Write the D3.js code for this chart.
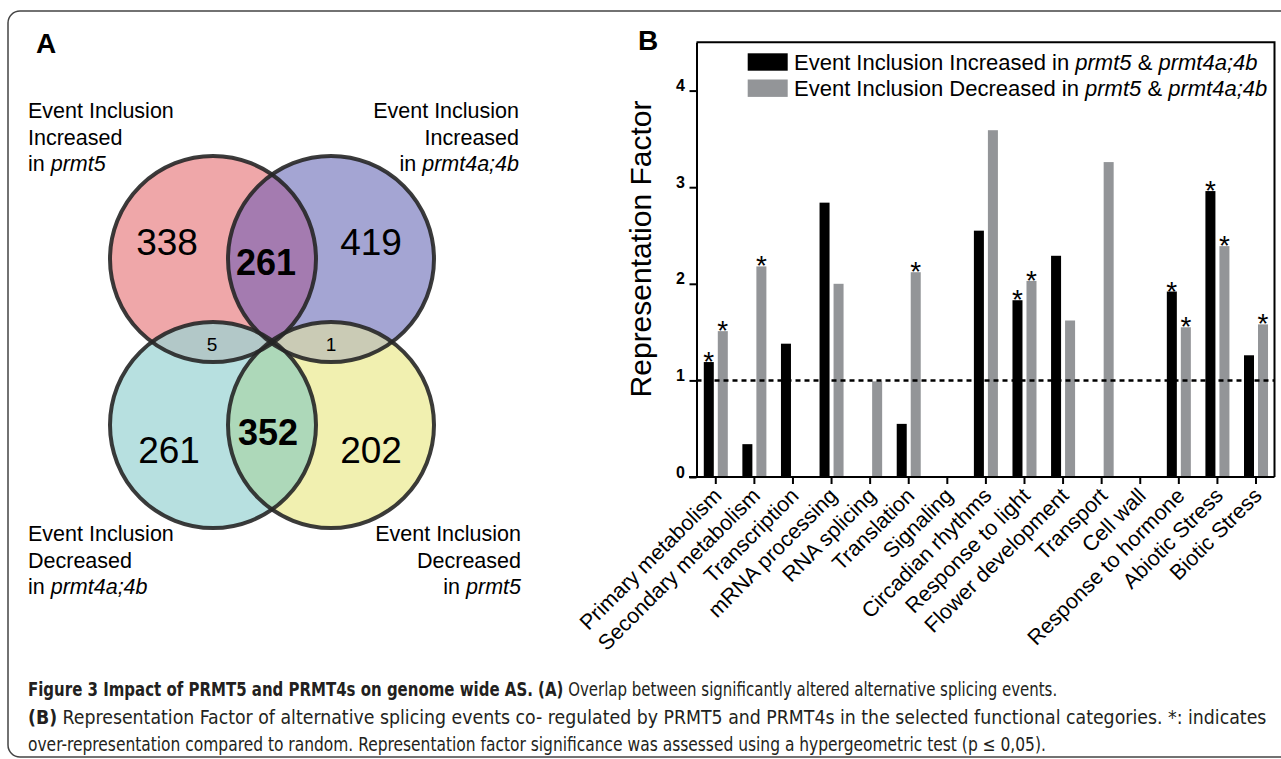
<!DOCTYPE html>
<html>
<head>
<meta charset="utf-8">
<script src="https://cdn.jsdelivr.net/npm/d3@7"></script>
<style>
  body { margin: 0; background: #fff; }
  svg { display: block; }
  text { font-family: "Liberation Sans", Arial, Helvetica, sans-serif; fill: #000; }
</style>
</head>
<body>
<svg id="fig" width="1281" height="759"></svg>
<script>
// ---- data ----
const categories = [
  "Primary metabolism", "Secondary metabolism", "Transcription", "mRNA processing",
  "RNA splicing", "Translation", "Signaling", "Circadian rhythms", "Response to light",
  "Flower development", "Transport", "Cell wall", "Response to hormone",
  "Abiotic Stress", "Biotic Stress"
];
const increased = [1.19, 0.34, 1.38, 2.84, 0, 0.55, 0, 2.55, 1.83, 2.29, 0, 0, 1.92, 2.96, 1.26];
const decreased = [1.51, 2.18, 0, 2.0, 0.99, 2.12, 0, 3.59, 2.03, 1.62, 3.26, 0, 1.55, 2.39, 1.58];
const sigIncreased = [true, false, false, false, false, false, false, false, true, false, false, false, true, true, false];
const sigDecreased = [true, true, false, false, false, true, false, false, true, false, false, false, true, true, true];
const yTicks = [0, 1, 2, 3, 4];
const baseline = 1;

// venn: exclusive counts for each set, then pair overlaps
const vennSets = ["incPrmt5", "incPrmt4", "decPrmt4", "decPrmt5"];
const vennOnly = [338, 419, 261, 202];
const vennPairs = [
  { a: 0, b: 1, n: 261 },
  { a: 2, b: 3, n: 352 },
  { a: 0, b: 2, n: 5 },
  { a: 1, b: 3, n: 1 }
];

const svg = d3.select("#fig");

// outer frame
svg.append("rect")
  .attr("x", 8).attr("y", 11)
  .attr("width", 1300).attr("height", 746)
  .attr("rx", 12)
  .attr("fill", "none")
  .attr("stroke", "#444")
  .attr("stroke-width", 1.5);

// ================= Panel A : Venn =================
svg.append("text").attr("x", 36).attr("y", 53)
  .style("font-size", "28px").style("font-weight", "bold").text("A");

const r = 103;
const circles = [
  { cx: 213, cy: 259, fill: "#efa7a9" },
  { cx: 331, cy: 259, fill: "#a4a5d3" },
  { cx: 213, cy: 425, fill: "#b7e0e0" },
  { cx: 331, cy: 425, fill: "#f1f0b0" }
];
const lensFill = ["#a47bb0", "#add8b9", "#b2c8c8", "#cacbb5"];

const defs = svg.append("defs");
circles.forEach((c, i) => {
  defs.append("clipPath").attr("id", "clip" + i)
    .append("circle").attr("cx", c.cx).attr("cy", c.cy).attr("r", r);
});

const venn = svg.append("g");
venn.selectAll("circle.fill")
  .data(circles)
  .enter().append("circle")
  .attr("class", "fill")
  .attr("cx", d => d.cx).attr("cy", d => d.cy).attr("r", r)
  .attr("fill", d => d.fill);

vennPairs.forEach((p, i) => {
  venn.append("circle")
    .attr("cx", circles[p.b].cx).attr("cy", circles[p.b].cy).attr("r", r)
    .attr("clip-path", `url(#clip${p.a})`)
    .attr("fill", lensFill[i]);
});

venn.selectAll("circle.edge")
  .data(circles)
  .enter().append("circle")
  .attr("class", "edge")
  .attr("cx", d => d.cx).attr("cy", d => d.cy).attr("r", r)
  .attr("fill", "none")
  .attr("stroke", "#262626")
  .attr("stroke-opacity", 0.9)
  .attr("stroke-width", 4);

// count labels
const onlyPos = [[167, 255], [371, 255], [169, 463], [371, 463]];
vennOnly.forEach((n, i) => {
  venn.append("text").attr("x", onlyPos[i][0]).attr("y", onlyPos[i][1])
    .attr("text-anchor", "middle").style("font-size", "37px").text(n);
});
const pairPos = [[266, 275, 36, true], [268, 445, 36, true], [212, 351, 19, false], [331, 351, 19, false]];
vennPairs.forEach((p, i) => {
  venn.append("text").attr("x", pairPos[i][0]).attr("y", pairPos[i][1])
    .attr("text-anchor", "middle")
    .style("font-size", pairPos[i][2] + "px")
    .style("font-weight", pairPos[i][3] ? "bold" : "normal")
    .text(p.n);
});

// set labels
const setLabels = [
  { x: 28, y: 118, anchor: "start", lines: ["Event Inclusion", "Increased"], last: "prmt5" },
  { x: 519, y: 118, anchor: "end", lines: ["Event Inclusion", "Increased"], last: "prmt4a;4b" },
  { x: 28, y: 541, anchor: "start", lines: ["Event Inclusion", "Decreased"], last: "prmt4a;4b" },
  { x: 521, y: 541, anchor: "end", lines: ["Event Inclusion", "Decreased"], last: "prmt5" }
];
setLabels.forEach(l => {
  const t = venn.append("text").attr("text-anchor", l.anchor).style("font-size", "21.5px");
  l.lines.forEach((s, k) => {
    t.append("tspan").attr("x", l.x).attr("y", l.y + k * 26.5).text(s);
  });
  const last = t.append("tspan").attr("x", l.x).attr("y", l.y + 2 * 26.5);
  last.append("tspan").text("in ");
  last.append("tspan").style("font-style", "italic").text(l.last);
});

// ================= Panel B : bars =================
svg.append("text").attr("x", 638).attr("y", 50)
  .style("font-size", "28px").style("font-weight", "bold").text("B");

const plotLeft = 696.5, plotRight = 1274.5, plotTop = 42.3, plotBottom = 477;

const x0 = d3.scaleBand().domain(categories).range([plotLeft, 1275.3]);
const x1 = d3.scaleBand().domain(["inc", "dec"]).range([0, x0.bandwidth()])
  .paddingInner(0.2857).paddingOuter(0.52);
const y = d3.scaleLinear().domain([0, 4.5]).range([plotBottom, plotTop]);

const rows = categories.map((c, i) => ({
  cat: c,
  vals: [
    { key: "inc", v: increased[i], sig: sigIncreased[i] },
    { key: "dec", v: decreased[i], sig: sigDecreased[i] }
  ]
}));
const colour = { inc: "#000000", dec: "#939598" };

const groups = svg.append("g").selectAll("g")
  .data(rows).enter().append("g")
  .attr("transform", d => `translate(${x0(d.cat)},0)`);

groups.selectAll("rect")
  .data(d => d.vals.filter(v => v.v > 0))
  .enter().append("rect")
  .attr("x", d => x1(d.key))
  .attr("y", d => y(d.v))
  .attr("width", x1.bandwidth())
  .attr("height", d => y(0) - y(d.v))
  .attr("fill", d => colour[d.key]);

groups.selectAll("text.star")
  .data(d => d.vals.filter(v => v.sig))
  .enter().append("text")
  .attr("class", "star")
  .attr("x", d => x1(d.key) + x1.bandwidth() / 2)
  .attr("y", d => y(d.v) + 9)
  .attr("text-anchor", "middle")
  .style("font-size", "28px")
  .text("*");

// reference line at 1
svg.append("line")
  .attr("x1", plotLeft).attr("x2", plotRight)
  .attr("y1", y(baseline)).attr("y2", y(baseline))
  .attr("stroke", "#000")
  .attr("stroke-width", 2.5)
  .attr("stroke-dasharray", "5,4");

// frame (top and right)
svg.append("path")
  .attr("d", `M${plotLeft},${plotTop}H${plotRight}V${plotBottom}`)
  .attr("fill", "none").attr("stroke", "#000").attr("stroke-width", 2);

// y axis
const yAxis = svg.append("g")
  .attr("transform", `translate(${plotLeft},0)`)
  .call(d3.axisLeft(y).tickValues(yTicks).tickFormat(d3.format("d"))
    .tickSize(7).tickSizeOuter(0).tickPadding(4.5));
yAxis.select(".domain").attr("stroke-width", 2);
yAxis.selectAll(".tick line").attr("stroke-width", 2);
yAxis.selectAll(".tick text")
  .attr("dy", "0")
  .style("font-size", "16px")
  .style("font-weight", "bold")
  .style("font-family", "'Liberation Sans', Arial, sans-serif");

// x axis
const xAxis = svg.append("g")
  .attr("transform", `translate(0,${plotBottom})`)
  .call(d3.axisBottom(x0).tickSize(7).tickSizeOuter(0));
xAxis.select(".domain").attr("stroke-width", 2).attr("d", `M689,0H${plotRight}`);
xAxis.selectAll(".tick line").attr("stroke-width", 2);
xAxis.selectAll(".tick text")
  .attr("x", 0).attr("y", 0).attr("dy", "0")
  .attr("transform", "translate(7,20) rotate(-45)")
  .attr("text-anchor", "end")
  .style("font-size", "21.5px")
  .style("font-family", "'Liberation Sans', Arial, sans-serif");

// y label
svg.append("text")
  .attr("transform", "translate(651,249) rotate(-90)")
  .attr("text-anchor", "middle")
  .style("font-size", "30px")
  .text("Representation Factor");

// legend
const legendItems = [
  { key: "inc", word: "Increased", y: 53.3 },
  { key: "dec", word: "Decreased", y: 79.5 }
];
legendItems.forEach(l => {
  svg.append("rect").attr("x", 747.7).attr("y", l.y).attr("width", 40).attr("height", 17.4)
    .attr("fill", colour[l.key]);
  const t = svg.append("text").attr("x", 794).attr("y", l.y + 16.2).style("font-size", "22px");
  t.append("tspan").text(`Event Inclusion ${l.word} in `);
  t.append("tspan").style("font-style", "italic").text("prmt5");
  t.append("tspan").text(" & ");
  t.append("tspan").style("font-style", "italic").text("prmt4a;4b");
});

// ================= caption =================
const captionLines = [
  { y: 696, w: 1030, parts: [["Figure 3 Impact of PRMT5 and PRMT4s on genome wide AS. (A)", true], [" Overlap between significantly altered alternative splicing events.", false]] },
  { y: 723.5, w: 1239, parts: [["(B)", true], [" Representation Factor of alternative splicing events co- regulated by PRMT5 and PRMT4s in the selected functional categories. *: indicates", false]] },
  { y: 751, w: 1019, parts: [["over-representation compared to random. Representation factor significance was assessed using a hypergeometric test (p \u2264 0,05).", false]] }
];
captionLines.forEach(c => {
  const g = svg.append("g");
  const t = g.append("text").attr("x", 0).attr("y", 0)
    .style("font-size", "19.5px")
    .style("font-family", "'Liberation Sans Narrow', 'DejaVu Sans Condensed', 'Liberation Sans', sans-serif")
    .style("font-stretch", "condensed")
    .style("fill", "#231f20");
  c.parts.forEach(p => {
    t.append("tspan").style("font-weight", p[1] ? "bold" : "normal").style("fill", "#231f20").text(p[0]);
  });
  const natural = t.node().getComputedTextLength();
  g.attr("transform", `translate(28,${c.y}) scale(${c.w / natural},1)`);
});
</script>
</body>
</html>
